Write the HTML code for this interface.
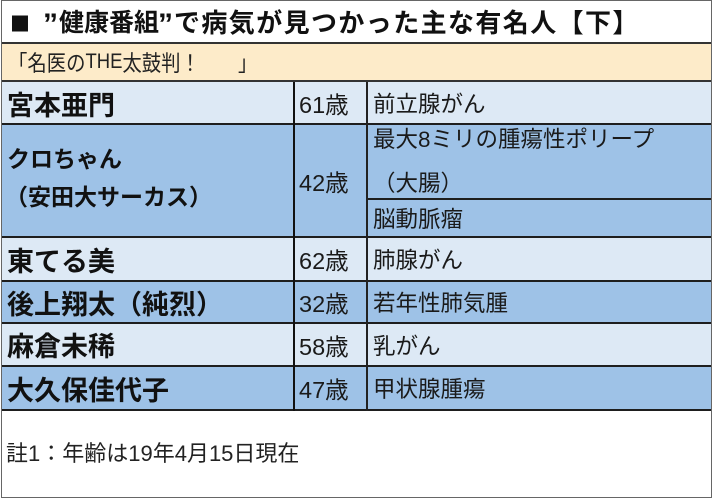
<!DOCTYPE html>
<html><head><meta charset="utf-8">
<style>
*{margin:0;padding:0;box-sizing:border-box}
html,body{width:714px;height:500px;background:#fff;overflow:hidden}
body{position:relative;font-family:"Liberation Sans","Noto Sans CJK JP",sans-serif;color:#1a1a1a}
.a{position:absolute}
.frame{left:1px;top:0;width:711px;height:498px;border:1px solid #666}
.bg{position:absolute}
.hl{position:absolute;background:#1e1e1e}
.t{position:absolute;white-space:nowrap;display:flex;align-items:center}
.name{font-weight:bold;font-size:27px;color:#111}
.name2{font-weight:bold;font-size:23px;color:#111}
.age{font-size:23.5px}
.dis{font-size:22.5px}
.tt{font-weight:bold;color:#111}
.sx{transform:scaleX(0.88);transform-origin:0 50%}
</style></head><body>
<!-- backgrounds -->
<div class="bg" style="left:2px;top:43px;width:709px;height:38px;background:#fdebc9"></div>
<div class="bg" style="left:2px;top:82px;width:709px;height:42px;background:#dde9f5"></div>
<div class="bg" style="left:2px;top:124px;width:709px;height:113px;background:#9ec2e7"></div>
<div class="bg" style="left:2px;top:237px;width:709px;height:44px;background:#dde9f5"></div>
<div class="bg" style="left:2px;top:281px;width:709px;height:42px;background:#9ec2e7"></div>
<div class="bg" style="left:2px;top:323px;width:709px;height:43px;background:#dde9f5"></div>
<div class="bg" style="left:2px;top:366px;width:709px;height:44px;background:#9ec2e7"></div>

<!-- horizontal lines -->
<div class="hl" style="left:2px;top:42px;width:709px;height:2px;background:#333"></div>
<div class="hl" style="left:2px;top:80px;width:709px;height:2px;background:#333"></div>
<div class="hl" style="left:2px;top:123px;width:709px;height:2px"></div>
<div class="hl" style="left:367px;top:198px;width:344px;height:2px"></div>
<div class="hl" style="left:2px;top:236px;width:709px;height:2px"></div>
<div class="hl" style="left:2px;top:280px;width:709px;height:2px"></div>
<div class="hl" style="left:2px;top:322px;width:709px;height:2px"></div>
<div class="hl" style="left:2px;top:365px;width:709px;height:2px"></div>
<div class="hl" style="left:2px;top:409px;width:709px;height:2px"></div>
<!-- vertical lines -->
<div class="hl" style="left:293px;top:82px;width:2px;height:329px;background:#111"></div>
<div class="hl" style="left:366px;top:82px;width:2px;height:329px;background:#222"></div>

<div class="a frame"></div>

<!-- title -->
<div class="t tt" style="left:10px;top:1px;height:42px;font-size:20px;font-family:'Noto Sans CJK JP',sans-serif">■</div>
<div class="t tt" style="left:43px;top:4px;height:42px;font-size:30px">”</div>
<div class="t tt" style="left:59px;top:0;height:42px;font-size:25px">健康番組</div>
<div class="t tt" style="left:158px;top:4px;height:42px;font-size:30px">”</div>
<div class="t tt" style="left:174px;top:0;height:42px;font-size:26px;letter-spacing:1.4px">で病気が見つかった主な有名人【下】</div>

<!-- subtitle -->
<div class="t sx" style="left:8px;top:43px;height:38px;font-size:22px;color:#222">「名医の<span style="font-size:21px">THE</span>太鼓判！</div>
<div class="t sx" style="left:238px;top:43px;height:38px;font-size:22px;color:#222">」</div>

<!-- row1 -->
<div class="t name" style="left:7px;top:82px;height:42px">宮本亜門</div>
<div class="t age" style="left:299px;top:82px;height:42px">61歳</div>
<div class="t dis" style="left:373px;top:82px;height:42px">前立腺がん</div>

<!-- row2 -->
<div class="t name2" style="left:7px;top:138px;height:38px">クロちゃん</div>
<div class="t name2" style="left:5px;top:176px;height:38px">（安田大サーカス）</div>
<div class="t age" style="left:299px;top:124px;height:113px">42歳</div>
<div class="t dis" style="left:373px;top:118px;height:40px">最大8ミリの腫瘍性ポリープ</div>
<div class="t dis" style="left:373px;top:162px;height:40px">（大腸）</div>
<div class="t dis" style="left:373px;top:200px;height:36px">脳動脈瘤</div>

<!-- row3 -->
<div class="t name" style="left:7px;top:238px;height:42px">東てる美</div>
<div class="t age" style="left:299px;top:238px;height:42px">62歳</div>
<div class="t dis" style="left:373px;top:238px;height:42px">肺腺がん</div>

<!-- row4 -->
<div class="t name" style="left:7px;top:282px;height:40px">後上翔太（純烈）</div>
<div class="t age" style="left:299px;top:282px;height:40px">32歳</div>
<div class="t dis" style="left:373px;top:282px;height:40px">若年性肺気腫</div>

<!-- row5 -->
<div class="t name" style="left:7px;top:324px;height:41px">麻倉未稀</div>
<div class="t age" style="left:299px;top:324px;height:41px">58歳</div>
<div class="t dis" style="left:373px;top:324px;height:41px">乳がん</div>

<!-- row6 -->
<div class="t name" style="left:7px;top:367px;height:42px">大久保佳代子</div>
<div class="t age" style="left:299px;top:367px;height:42px">47歳</div>
<div class="t dis" style="left:373px;top:367px;height:42px">甲状腺腫瘍</div>

<!-- note -->
<div class="t" style="left:6px;top:436px;height:32px;font-size:22px;color:#222">註1：年齢は19年4月15日現在</div>
</body></html>
